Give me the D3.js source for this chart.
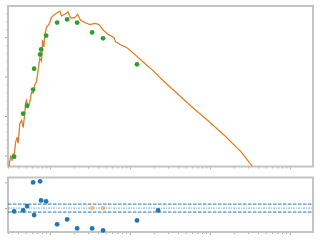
<!DOCTYPE html>
<html>
<head>
<meta charset="utf-8">
<script src="https://cdn.jsdelivr.net/npm/d3@7"></script>
<style>
  body { margin: 0; background: #fff; }
  svg { display: block; }
</style>
</head>
<body>
<div id="chart"></div>
<script>
// model curve (orange)
const curveX = [0.307, 0.316, 0.3255, 0.338, 0.348, 0.355, 0.373, 0.390, 0.402, 0.422,
  0.443, 0.464, 0.487, 0.497, 0.511, 0.535, 0.562, 0.591, 0.618, 0.649,
  0.682, 0.714, 0.750, 0.787, 0.811, 0.841, 0.866, 0.909, 0.98, 1.05,
  1.155, 1.27, 1.333, 1.40, 1.54, 1.69, 1.81, 2.05, 2.22, 2.42,
  2.74, 3.16, 3.65, 4.13, 4.64, 5.35, 6.31, 6.68, 7.50, 9.09,
  11.0, 14.7, 19.5, 23.7, 28.7, 36.5, 59.0, 95.2, 154, 249, 348, 500];
const curveY = [0.70, 0.87, 1.00, 0.87, 1.05, 0.92, 1.33, 1.46, 1.31, 1.81,
  1.89, 1.71, 2.07, 2.32, 2.40, 2.22, 2.35, 2.60, 2.58, 2.78,
  2.88, 3.16, 3.47, 3.39, 3.92, 3.75, 4.05, 4.25, 4.33, 4.51,
  4.58, 4.63, 4.66, 4.54, 4.58, 4.64, 4.49, 4.49, 4.58, 4.43,
  4.37, 4.32, 4.35, 4.32, 4.18, 4.07, 3.99, 3.88, 3.82, 3.74,
  3.60, 3.37, 3.15, 2.98, 2.82, 2.63, 2.24, 1.88, 1.50, 1.08, 0.70, 0.30];

// measured points (green)
const obsX = [0.358, 0.464, 0.52, 0.618, 0.636, 0.756, 0.778, 0.899, 1.234, 1.645, 2.195, 3.38, 4.63, 12.3];
const obsY = [0.97, 2.06, 2.26, 2.67, 3.20, 3.56, 3.69, 4.04, 4.37, 4.45, 4.37, 4.12, 3.97, 3.31];

// residuals (blue), and the two flagged ones (orange)
const resX = [0.358, 0.464, 0.52, 0.618, 0.636, 0.756, 0.778, 0.899, 1.234, 1.645, 2.195, 3.38, 4.63, 12.3, 22.6];
const resY = [-0.13, -0.09, 0.08, 1.0, -0.27, 1.04, 0.30, 0.26, -0.63, -0.44, -0.79, -0.79, -0.87, -0.48, -0.09];
const flagX = [3.38, 4.63];
const flagY = [0, 0];
const band = 0.155;

const width = 320, height = 240;
const left = 8, right = 313;
const topPanel = {top: 6, bottom: 166.5};
const botPanel = {top: 177.5, bottom: 232};
const spine = "#c4c4c4";

const svg = d3.select("#chart").append("svg")
  .attr("width", width)
  .attr("height", height);

const x = d3.scaleLog().domain([0.3, 1950]).range([left, right]);
const y = d3.scaleLinear().domain([0.72, 4.79]).range([topPanel.bottom, topPanel.top]);
const yr = d3.scaleLinear().domain([-0.93, 1.19]).range([botPanel.bottom, botPanel.top]);

svg.append("defs").append("clipPath").attr("id", "clipTop")
  .append("rect")
  .attr("x", left).attr("y", topPanel.top)
  .attr("width", right - left).attr("height", topPanel.bottom - topPanel.top);

// axes for one panel -- no labels, just grey ticks
const drawAxes = (yScale, panel, majorY, minorY) => {
  const g = svg.append("g");
  const xAxis = d3.axisBottom(x).tickSize(3).tickFormat("")
    .tickValues([1, 10, 100, 1000]);
  const xMinor = d3.axisBottom(x).tickSize(2).tickFormat("")
    .tickValues(x.ticks().filter(t => ![1, 10, 100, 1000].includes(t)));
  [xAxis, xMinor].forEach(ax => {
    g.append("g")
      .attr("transform", `translate(0, ${panel.bottom})`)
      .call(ax)
      .call(s => s.select(".domain").remove())
      .call(s => s.selectAll("line").attr("stroke", "#a8a8a8"));
  });
  g.append("g")
    .attr("transform", `translate(${left}, 0)`)
    .call(d3.axisLeft(yScale).tickSize(3).tickFormat("").tickValues(majorY))
    .call(s => s.select(".domain").remove())
    .call(s => s.selectAll("line").attr("stroke", "#a8a8a8"));
  if (minorY) {
    g.append("g")
      .attr("transform", `translate(${left}, 0)`)
      .call(d3.axisLeft(yScale).tickSize(1.5).tickFormat("").tickValues(minorY))
      .call(s => s.select(".domain").remove())
      .call(s => s.selectAll("line").attr("stroke", "#a8a8a8"));
  }
  g.append("rect")
    .attr("x", left).attr("y", panel.top)
    .attr("width", right - left).attr("height", panel.bottom - panel.top)
    .attr("fill", "none")
    .attr("stroke", spine)
    .attr("stroke-width", 2);
};

drawAxes(y, topPanel, [1, 2, 3, 4], d3.range(0.8, 4.8, 0.2));
drawAxes(yr, botPanel, [0, 1], null);

// top panel: curve + measured points
const line = d3.line()
  .x((d, i) => x(curveX[i]))
  .y(d => y(d));

const plotTop = svg.append("g").attr("clip-path", "url(#clipTop)");
plotTop.append("path")
  .datum(curveY)
  .attr("d", line)
  .attr("fill", "none")
  .attr("stroke", "#ff7f0e")
  .attr("stroke-width", 1.2);
plotTop.append("path")
  .datum(curveY)
  .attr("d", line)
  .attr("fill", "none")
  .attr("stroke", "#7f7f7f")
  .attr("stroke-opacity", 0.55)
  .attr("stroke-width", 0.6);

plotTop.selectAll("circle")
  .data(obsY)
  .enter()
  .append("circle")
  .attr("cx", (d, i) => x(obsX[i]))
  .attr("cy", d => y(d))
  .attr("r", 2.4)
  .attr("fill", "#2ca02c");

// bottom panel: band lines + residuals
const bot = svg.append("g");
[band, -band].forEach(v => {
  bot.append("line")
    .attr("x1", left).attr("x2", right)
    .attr("y1", yr(v)).attr("y2", yr(v))
    .attr("stroke", "#1f77b4")
    .attr("stroke-width", 1)
    .attr("stroke-dasharray", "3.5,1.5");
});
bot.append("line")
  .attr("x1", left).attr("x2", right)
  .attr("y1", yr(0)).attr("y2", yr(0))
  .attr("stroke", "#1f77b4")
  .attr("stroke-opacity", 0.6)
  .attr("stroke-width", 1)
  .attr("stroke-dasharray", "2,1,1,1");

bot.selectAll("circle.res")
  .data(resY)
  .enter()
  .append("circle")
  .attr("class", "res")
  .attr("cx", (d, i) => x(resX[i]))
  .attr("cy", d => yr(d))
  .attr("r", 2.4)
  .attr("fill", "#1f77b4");

bot.selectAll("circle.flag")
  .data(flagY)
  .enter()
  .append("circle")
  .attr("class", "flag")
  .attr("cx", (d, i) => x(flagX[i]))
  .attr("cy", d => yr(d))
  .attr("r", 2.4)
  .attr("fill", "#ff7f0e")
  .attr("fill-opacity", 0.45);
</script>
</body>
</html>
